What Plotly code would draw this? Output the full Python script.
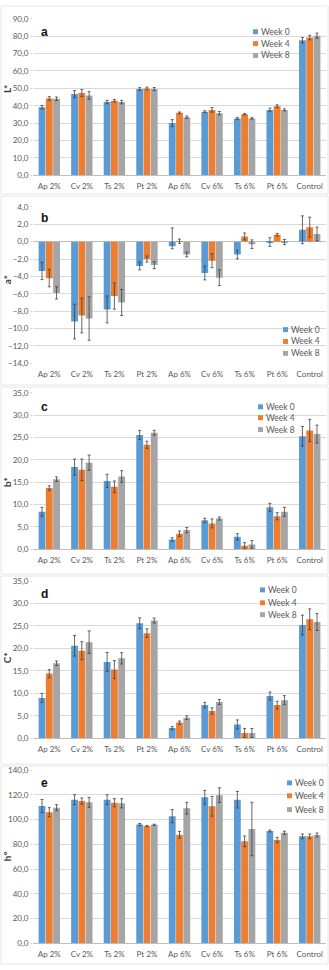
import plotly.graph_objects as go

W, H = 329, 970

categories = ["Ap 2%", "Cv 2%", "Ts 2%", "Pt 2%", "Ap 6%", "Cv 6%", "Ts 6%", "Pt 6%", "Control"]
weeks = ["Week 0", "Week 4", "Week 8"]

# Panel a: L*
L_w0 = [39.1, 46.7, 42.1, 49.6, 30.0, 36.6, 32.7, 37.6, 77.7]
L_w4 = [44.2, 47.3, 42.9, 49.9, 35.9, 37.6, 35.1, 39.7, 79.2]
L_w8 = [44.0, 45.9, 42.1, 49.6, 33.4, 35.7, 32.7, 37.6, 80.3]
L_e0 = [1.0, 2.0, 1.0, 0.8, 2.0, 0.5, 0.6, 1.0, 1.5]
L_e4 = [1.0, 2.0, 0.7, 0.8, 0.5, 1.3, 0.4, 0.8, 1.3]
L_e8 = [1.0, 2.2, 1.0, 0.9, 0.7, 1.0, 0.4, 0.6, 1.5]

# Panel b: a*
A_w0 = [-3.37, -9.2, -7.8, -2.8, -0.52, -3.6, -1.48, -0.05, 1.37]
A_w4 = [-4.2, -8.5, -6.27, -2.0, 0.05, -2.2, 0.6, 0.8, 1.67]
A_w8 = [-5.9, -8.85, -7.0, -2.7, -1.48, -4.15, -0.3, -0.05, 0.88]
A_e0p = [1.0, 2.0, 1.55, 0.45, 2.1, 0.8, 0.5, 0.5, 1.6]
A_e0m = [1.0, 2.0, 1.55, 0.45, 0.3, 0.8, 0.5, 0.5, 1.6]
A_e4 = [1.0, 2.0, 1.5, 0.35, 0.25, 0.8, 0.4, 0.15, 1.15]
A_e8 = [0.7, 2.5, 1.5, 0.4, 0.27, 0.9, 0.5, 0.3, 0.8]

# Panel c: b*
B_w0 = [8.4, 18.4, 15.3, 25.6, 2.2, 6.5, 2.8, 9.4, 25.3]
B_w4 = [13.7, 17.8, 14.0, 23.4, 3.5, 5.8, 0.8, 7.4, 26.6]
B_w8 = [15.7, 19.4, 16.3, 26.1, 4.3, 6.9, 1.1, 8.4, 25.8]
B_e0 = [1.0, 1.8, 1.5, 1.0, 0.4, 0.45, 0.7, 0.9, 2.2]
B_e4 = [0.5, 2.4, 1.3, 0.8, 0.6, 1.0, 0.7, 0.8, 2.5]
B_e8 = [0.5, 1.7, 1.3, 0.55, 0.6, 0.35, 0.85, 1.0, 2.0]

# Panel d: C*
C_w0 = [9.0, 20.6, 17.0, 25.6, 2.3, 7.4, 3.1, 9.4, 25.2]
C_w4 = [14.4, 19.5, 15.3, 23.4, 3.5, 6.1, 1.2, 7.4, 26.5]
C_w8 = [16.7, 21.4, 17.8, 26.2, 4.6, 8.1, 1.2, 8.5, 25.9]
C_e0 = [1.0, 2.3, 2.1, 1.2, 0.3, 0.6, 1.0, 0.9, 2.2]
C_e4 = [0.9, 2.0, 2.0, 0.95, 0.35, 0.7, 1.0, 0.85, 2.3]
C_e8 = [0.5, 2.5, 1.25, 0.55, 0.4, 0.55, 1.0, 1.0, 1.9]

# Panel e: h°
Hh_w0 = [110.9, 116.0, 116.0, 96.0, 102.7, 117.9, 116.0, 90.7, 86.4]
Hh_w4 = [105.9, 114.9, 113.6, 94.7, 87.7, 110.7, 82.4, 83.5, 86.4]
Hh_w8 = [109.6, 113.9, 113.1, 95.7, 109.1, 119.7, 92.3, 89.3, 87.5]
Hh_e0 = [5.3, 4.0, 4.0, 0.8, 5.3, 5.6, 6.7, 0.8, 1.9]
Hh_e4 = [3.7, 2.5, 3.3, 0.5, 2.7, 8.0, 4.3, 2.1, 1.9]
Hh_e8 = [2.4, 4.0, 3.7, 0.5, 4.8, 5.9, 21.6, 1.3, 1.6]

colors = ["#5B9BD5", "#ED7D31", "#A5A5A5"]
FONT = "Lato"
GRID = "#D9D9D9"
TXT = "#595959"

def py(p):
    return 1 - p / H

def px(p):
    return p / W

panels = [
    dict(key="a", title="L*", vals=[L_w0, L_w4, L_w8], errp=[L_e0, L_e4, L_e8], errm=[L_e0, L_e4, L_e8],
         rng=[0, 90], dtick=10, pix=(172, 14), box=(1, 191), title_y=85, letter_y=27,
         leg_x=253, leg_y=[27, 39, 51]),
    dict(key="b", title="a*", vals=[A_w0, A_w4, A_w8], errp=[A_e0p, A_e4, A_e8], errm=[A_e0m, A_e4, A_e8],
         rng=[-14, 4], dtick=2, pix=(362, 204), box=(193, 384), title_y=278, letter_y=215,
         leg_x=283, leg_y=[328, 340, 352]),
    dict(key="c", title="b*", vals=[B_w0, B_w4, B_w8], errp=[B_e0, B_e4, B_e8], errm=[B_e0, B_e4, B_e8],
         rng=[0, 35], dtick=5, pix=(550, 392), box=(386, 575), title_y=482, letter_y=406,
         leg_x=258, leg_y=[406, 417, 429]),
    dict(key="d", title="C*", vals=[C_w0, C_w4, C_w8], errp=[C_e0, C_e4, C_e8], errm=[C_e0, C_e4, C_e8],
         rng=[0, 35], dtick=5, pix=(741, 582), box=(577, 767), title_y=660, letter_y=595,
         leg_x=260, leg_y=[591, 604, 616]),
    dict(key="e", title="h°", vals=[Hh_w0, Hh_w4, Hh_w8], errp=[Hh_e0, Hh_e4, Hh_e8], errm=[Hh_e0, Hh_e4, Hh_e8],
         rng=[0, 140], dtick=20, pix=(948, 773), box=(769, 969), title_y=860, letter_y=786,
         leg_x=287, leg_y=[786, 799, 813]),
]

fig = go.Figure()
layout = dict(
    width=W, height=H, margin=dict(l=0, r=0, t=0, b=0),
    paper_bgcolor="white", plot_bgcolor="white",
    showlegend=False, separators=", ",
    font=dict(family=FONT, size=8, color=TXT),
    barmode="group", bargap=0.33, bargroupgap=0.06,
)
shapes = []
annotations = []

for i, p in enumerate(panels):
    n = "" if i == 0 else str(i + 1)
    xa, ya = "x" + n, "y" + n
    for k in range(3):
        fig.add_trace(go.Bar(
            x=categories, y=p["vals"][k], name=weeks[k],
            marker=dict(color=colors[k], line=dict(width=0)),
            error_y=dict(type="data", symmetric=False, array=p["errp"][k], arrayminus=p["errm"][k],
                         color="#404040", thickness=0.8, width=1.5),
            xaxis=xa, yaxis=ya,
        ))
    layout["xaxis" + n] = dict(
        domain=[px(33), px(326)], anchor=ya, type="category",
        showgrid=False, showline=False, zeroline=False,
        ticks="outside", ticklen=3, tickcolor="rgba(0,0,0,0)",
        tickfont=dict(family=FONT, size=8, color=TXT), tickangle=0,
    )
    layout["yaxis" + n] = dict(
        domain=[py(p["pix"][0]), py(p["pix"][1])], anchor=xa,
        range=p["rng"], dtick=p["dtick"], tick0=0, tickformat=".1f",
        showgrid=True, gridcolor=GRID, gridwidth=1,
        zeroline=True, zerolinecolor="#BFBFBF", zerolinewidth=1,
        showline=False, ticks="outside", ticklen=2, tickcolor=GRID,
        tickfont=dict(family=FONT, size=8, color=TXT),
    )
    # outer chart frame
    shapes.append(dict(type="rect", xref="paper", yref="paper",
                       x0=px(1), x1=px(328), y0=py(p["box"][1]), y1=py(p["box"][0]),
                       line=dict(color="#E6E6E6", width=1)))
    # axis title
    annotations.append(dict(xref="paper", yref="paper", x=px(7), y=py(p["title_y"]),
                            xanchor="center", yanchor="middle",
                            text="<b>" + p["title"] + "</b>", showarrow=False, textangle=-90,
                            font=dict(family=FONT, size=10, color="#404040")))
    # panel letter
    annotations.append(dict(xref="paper", yref="paper", x=px(39), y=py(p["letter_y"]),
                            xanchor="left", yanchor="middle",
                            text="<b>" + p["key"] + "</b>", showarrow=False,
                            font=dict(family="Liberation Sans", size=12, color="#111111")))
    # legend
    for k in range(3):
        yy = p["leg_y"][k]
        shapes.append(dict(type="rect", xref="paper", yref="paper",
                           x0=px(p["leg_x"]), x1=px(p["leg_x"] + 5),
                           y0=py(yy + 2.5), y1=py(yy - 2.5),
                           fillcolor=colors[k], line=dict(width=0)))
        annotations.append(dict(xref="paper", yref="paper", x=px(p["leg_x"] + 6), y=py(yy),
                                xanchor="left", yanchor="middle", text=weeks[k], showarrow=False,
                                font=dict(family=FONT, size=8.5, color=TXT)))

layout["shapes"] = shapes
layout["annotations"] = annotations
fig.update_layout(**layout)
fig.write_html("out.html")
